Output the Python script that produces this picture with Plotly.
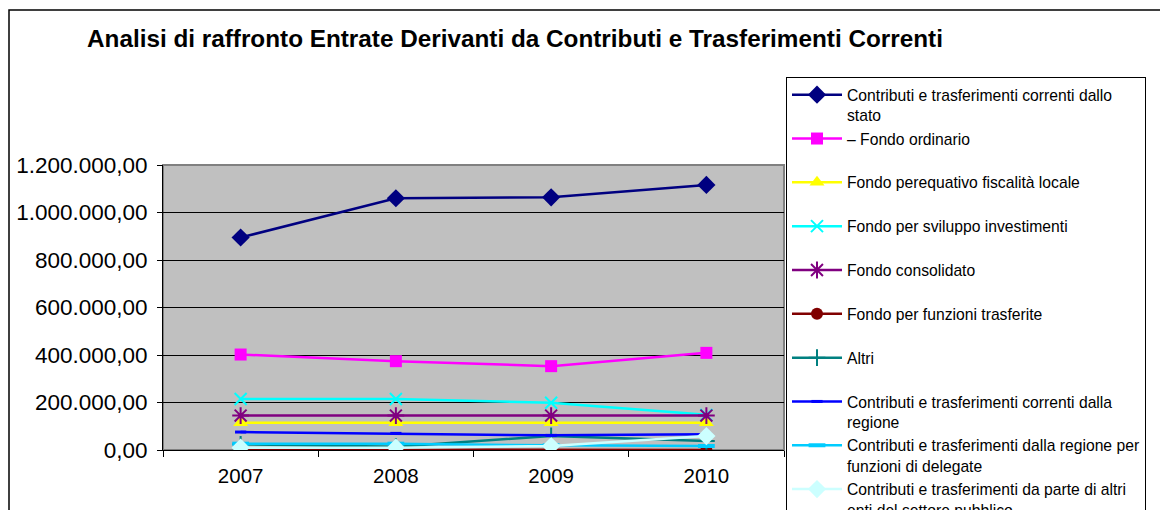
import plotly.graph_objects as go

years = ["2007", "2008", "2009", "2010"]

stato = [894700, 1060000, 1064000, 1116000]
fondo_ordinario = [402000, 374000, 353000, 409000]
fondo_perequativo = [115000, 115000, 115000, 115000]
fondo_sviluppo = [215000, 215000, 199000, 148000]
fondo_consolidato = [145000, 145000, 145000, 145000]
fondo_funzioni = [1500, 1500, 2500, 500]
altri = [24000, 14000, 59000, 38000]
regione = [75600, 70000, 61600, 65800]
regione_delegate = [26600, 26600, 19600, 16800]
altri_enti = [9800, 9800, 16800, 58800]

NB = "\u00a0"
series = [
    ("Contributi e trasferimenti correnti dallo<br>stato", stato, "#000080", "diamond", 14, 0),
    ("– Fondo ordinario<br>" + NB, fondo_ordinario, "#FF00FF", "square", 12, 0),
    ("Fondo perequativo fiscalità locale<br>" + NB, fondo_perequativo, "#FFFF00", "triangle-up", 13, 0),
    ("Fondo per sviluppo investimenti<br>" + NB, fondo_sviluppo, "#00FFFF", "x-thin", 12, 2),
    ("Fondo consolidato<br>" + NB, fondo_consolidato, "#800080", "asterisk", 14, 2),
    ("Fondo per funzioni trasferite<br>" + NB, fondo_funzioni, "#800000", "circle", 12, 0),
    ("Altri<br>" + NB, altri, "#008080", "cross-thin", 12, 2),
    ("Contributi e trasferimenti correnti dalla<br>regione", regione, "#0000FF", "line-ew", 8, 3),
    ("Contributi e trasferimenti dalla regione per<br>funzioni di delegate", regione_delegate, "#00CCFF", "line-ew", 12, 4),
    ("Contributi e trasferimenti da parte di altri<br>enti del settore pubblico", altri_enti, "#CCFFFF", "diamond", 14, 0),
]

fig = go.Figure()
for name, vals, col, sym, size, lw in series:
    fig.add_trace(go.Scatter(
        x=years, y=vals, name=name, mode="lines+markers",
        line=dict(color=col, width=2.5),
        marker=dict(symbol=sym, size=size, color=col,
                    line=dict(color=col, width=lw)),
    ))

# page has an 8px body margin; target page pixels are converted to figure pixels
OFF = 8
W, H = 1168, 510
L = 163 - OFF
T = 165 - OFF
B = H - (450 - OFF)
R = W - (784 - OFF)
pw, ph = W - L - R, H - T - B

def px_x(p):
    return (p - OFF - L) / pw

def px_y(p):
    return (H - B - (p - OFF)) / ph

fig.update_layout(
    width=W, height=H,
    margin=dict(l=L, r=R, t=T, b=B, autoexpand=False),
    paper_bgcolor="white",
    plot_bgcolor="#C0C0C0",
    separators=",.",
    font=dict(family="Liberation Sans, Arial, sans-serif", color="black"),
    title=dict(
        text="<b>Analisi di raffronto Entrate Derivanti da Contributi e Trasferimenti Correnti</b>",
        font=dict(size=24.3, color="black", family="Liberation Sans, Arial, sans-serif"),
        xref="container", yref="container",
        x=(87 - OFF) / W, xanchor="left", y=1 - (38 - OFF) / H, yanchor="middle",
    ),
    xaxis=dict(
        type="category", range=[-0.5, 3.5], tickson="boundaries",
        ticks="outside", ticklen=6, tickcolor="black",
        showline=True, linecolor="black", linewidth=1,
        showgrid=False, zeroline=False,
        tickfont=dict(size=20.5, color="black"),
        ticklabelstandoff=7,
    ),
    yaxis=dict(
        range=[0, 1200000], dtick=200000, tickformat=",.2f",
        ticks="outside", ticklen=5, tickcolor="black",
        showline=True, linecolor="black", linewidth=1,
        showgrid=True, gridcolor="black", gridwidth=1,
        zeroline=False,
        tickfont=dict(size=22.5, color="black"),
        ticklabelstandoff=5,
    ),
    legend=dict(
        x=px_x(786), xanchor="left", y=px_y(77), yanchor="top",
        bgcolor="white", bordercolor="black", borderwidth=1,
        font=dict(size=15.7, color="black"),
        valign="top", itemwidth=50, tracegroupgap=0,
        itemclick=False, itemdoubleclick=False,
    ),
    showlegend=True,
    shapes=[
        dict(type="rect", xref="paper", yref="paper",
             x0=0, x1=1, y0=0, y1=1,
             line=dict(color="#808080", width=2), layer="below"),
        dict(type="rect", xref="paper", yref="paper",
             x0=px_x(9), x1=px_x(1300), y0=px_y(600), y1=px_y(10),
             line=dict(color="black", width=1.5), layer="below"),
    ],
)

try:
    fig.update_layout(legend_maxheight=2000)
except Exception:
    pass

fig.write_html("out.html")
